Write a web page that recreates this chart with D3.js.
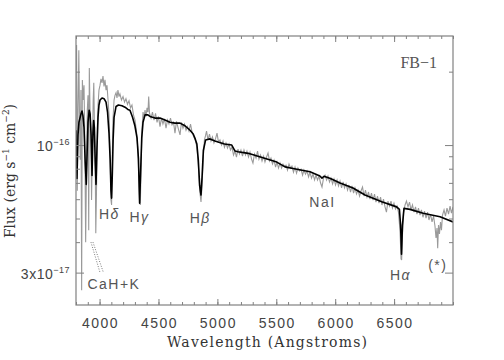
<!DOCTYPE html>
<html>
<head>
<meta charset="utf-8">
<script src="https://cdn.jsdelivr.net/npm/d3@7"></script>
<style>
  body { margin: 0; background: #fff; }
  .tick-label { font-family: "Liberation Sans", Arial, sans-serif; font-size: 14px; letter-spacing: 1.5px; fill: #444; }
  .axis-title { font-family: "DejaVu Serif", "Liberation Serif", serif; font-size: 14px; fill: #333; }
  .line-label { font-family: "Liberation Sans", Arial, sans-serif; font-size: 14px; letter-spacing: 1.5px; fill: #555; }
</style>
</head>
<body>
<div id="chart"></div>
<script>
// flux in units of 1e-17 erg s^-1 cm^-2 A^-1, wavelength in Angstroms

// smooth model spectrum (black)
const model = [
  [3800,11.5],[3808,7.3],[3817,11.0],[3825,12.4],[3842,13.4],[3851,13.8],[3859,13.2],[3868,11.8],
  [3878,8.5],[3887,6.9],[3895,9.5],[3902,12.4],[3912,13.9],[3920,13.4],[3928,11.0],[3936,7.5],
  [3944,11.2],[3950,12.6],[3956,11.8],[3963,8.5],[3970,6.9],[3978,9.7],[3987,13.0],[3995,14.6],
  [4004,15.3],[4021,15.6],[4038,15.5],[4055,15.0],[4068,13.6],[4080,11.2],[4090,8.7],[4097,6.5],
  [4102,6.06],[4108,7.5],[4115,10.5],[4123,13.0],[4140,14.4],[4160,14.6],[4190,14.5],[4216,14.3],
  [4240,14.0],[4258,13.9],[4280,13.0],[4300,12.0],[4318,10.7],[4330,8.8],[4340,5.78],[4348,7.6],
  [4358,10.7],[4369,12.4],[4386,13.3],[4410,13.3],[4428,13.1],[4470,12.9],[4513,12.9],[4555,12.66],
  [4598,12.4],[4640,12.3],[4683,12.3],[4725,12.0],[4768,11.5],[4795,11.1],[4812,10.6],[4826,10.1],
  [4838,8.7],[4850,6.8],[4861,6.24],[4870,7.4],[4881,9.5],[4900,10.5],[4937,10.6],[4980,10.4],
  [5005,10.3],[5060,10.1],[5122,10.0],[5150,9.45],[5175,9.39],[5262,9.25],[5380,8.90],[5497,8.55],
  [5574,8.14],[5642,8.02],[5786,7.78],[5870,7.47],[5888,7.32],[5905,7.45],[5960,7.30],[6041,6.99],
  [6151,6.67],[6253,6.24],[6395,5.86],[6522,5.58],[6545,5.45],[6555,4.70],[6563,3.57],[6571,4.70],
  [6584,5.50],[6635,5.45],[6747,5.25],[6890,5.08],[7000,4.84]
];

// observed spectrum (grey)
const observed = [
  [3800,20.3],[3805,25.7],[3811,6.5],[3817,13.9],[3824,24.5],[3830,12.7],[3836,8.7],[3842,16.8],
  [3848,2.54],[3854,18.5],[3861,15.3],[3868,17.6],[3875,10.5],[3882,4.0],[3889,7.9],[3896,13.9],
  [3902,16.0],[3908,4.48],[3913,20.7],[3919,13.9],[3926,11.5],[3932,5.95],[3939,9.54],[3946,15.3],
  [3951,18.0],[3957,11.5],[3963,8.7],[3968,4.35],[3974,6.5],[3981,11.5],[3987,14.6],[3995,16.8],
  [4004,17.6],[4012,18.7],[4021,18.0],[4029,19.2],[4038,17.4],[4046,18.5],[4055,16.8],[4063,17.6],
  [4072,15.3],[4080,13.3],[4089,9.5],[4097,5.95],[4102,5.68],[4108,8.7],[4114,12.7],[4123,15.3],
  [4131,16.0],[4140,16.4],[4148,15.6],[4156,16.8],[4165,15.8],[4173,16.2],[4186,15.3],[4199,15.8],
  [4212,15.0],[4224,15.5],[4237,14.7],[4250,15.2],[4263,14.2],[4275,14.6],[4288,13.3],[4301,12.66],
  [4314,11.3],[4326,9.5],[4339,5.95],[4346,5.68],[4352,7.9],[4360,11.5],[4369,13.65],[4377,12.9],
  [4386,13.9],[4394,13.1],[4403,14.2],[4411,13.65],[4417,15.8],[4424,13.5],[4437,12.9],[4449,13.65],
  [4462,12.66],[4475,13.5],[4488,12.4],[4500,13.1],[4513,11.9],[4526,12.9],[4538,12.2],[4551,12.8],
  [4564,11.74],[4577,12.66],[4589,12.2],[4602,12.9],[4615,12.1],[4628,12.4],[4640,11.2],[4653,12.5],
  [4666,11.8],[4683,11.0],[4695,12.4],[4708,11.74],[4721,12.2],[4734,11.5],[4746,11.9],[4759,11.4],
  [4772,12.2],[4785,11.3],[4797,10.9],[4812,10.5],[4826,9.8],[4838,8.3],[4850,6.5],[4861,5.84],
  [4870,6.86],[4881,9.0],[4890,10.5],[4899,10.9],[4908,11.4],[4920,10.5],[4933,11.1],[4946,10.4],
  [4958,10.8],[4971,10.2],[4984,10.6],[4997,11.2],[5009,10.3],[5022,10.5],[5035,10.0],[5048,10.4],
  [5060,9.8],[5073,10.2],[5086,9.72],[5099,10.1],[5111,9.54],[5124,9.8],[5137,9.10],[5150,9.45],
  [5162,8.93],[5175,9.63],[5188,9.19],[5200,9.54],[5213,9.0],[5226,9.54],[5239,9.10],[5251,9.45],
  [5264,8.93],[5277,9.36],[5290,8.76],[5302,8.44],[5315,9.19],[5328,8.85],[5341,9.45],[5353,8.76],
  [5366,9.10],[5379,8.60],[5392,9.0],[5404,8.52],[5417,8.93],[5430,9.27],[5443,8.60],[5455,8.85],
  [5468,8.36],[5481,8.68],[5494,8.13],[5506,8.52],[5519,8.05],[5532,8.44],[5545,8.05],[5557,8.36],
  [5570,8.20],[5583,8.28],[5595,7.9],[5608,8.36],[5621,8.05],[5633,8.20],[5646,7.75],[5659,8.13],
  [5672,7.68],[5684,8.05],[5697,7.83],[5710,7.97],[5723,7.53],[5735,7.9],[5748,7.6],[5761,7.83],
  [5774,7.4],[5786,7.75],[5799,7.32],[5812,7.6],[5825,7.19],[5837,7.53],[5850,7.19],[5863,7.46],
  [5876,6.99],[5888,6.73],[5901,7.32],[5914,7.53],[5927,7.19],[5939,7.46],[5952,7.06],[5965,7.32],
  [5978,6.93],[5990,7.25],[6003,6.86],[6016,7.19],[6028,6.80],[6041,7.12],[6054,6.67],[6067,7.06],
  [6079,6.67],[6092,6.93],[6105,6.54],[6117,6.86],[6130,6.42],[6143,6.80],[6156,6.36],[6168,6.67],
  [6181,6.30],[6194,6.54],[6207,6.18],[6219,6.48],[6232,6.73],[6245,6.18],[6257,6.54],[6270,6.12],
  [6283,6.42],[6295,6.0],[6308,6.36],[6321,5.95],[6334,6.30],[6346,5.84],[6359,6.18],[6372,5.78],
  [6385,6.12],[6397,5.68],[6410,6.0],[6423,5.58],[6435,5.31],[6448,5.89],[6461,5.62],[6474,5.89],
  [6486,5.52],[6499,5.78],[6512,5.47],[6525,5.62],[6537,5.31],[6550,4.48],[6559,3.42],[6564,3.38],
  [6571,4.28],[6580,5.31],[6593,5.68],[6605,5.89],[6618,5.58],[6631,5.84],[6643,5.42],[6656,5.68],
  [6669,5.31],[6682,5.58],[6694,5.21],[6707,5.52],[6720,5.16],[6732,5.42],[6745,5.06],[6758,5.36],
  [6771,5.02],[6784,5.31],[6796,4.93],[6809,5.21],[6822,4.84],[6835,5.11],[6847,4.66],[6856,4.16],
  [6864,4.57],[6870,3.78],[6877,4.70],[6885,4.32],[6894,4.84],[6902,4.48],[6911,5.16],[6924,5.42],
  [6936,5.11],[6949,5.52],[6962,5.21],[6975,5.62],[6987,5.26],[7000,5.58]
];

// axis ticks
const xMajorTicks = [4000, 4500, 5000, 5500, 6000, 6500];
const xMinorTicks = d3.range(3800, 7001, 100);
const yMajorTicks = [10, 3];
const yMinorTicks = [20, 9, 8, 7, 6, 5, 4];
const yTickLabels = [
  { value: 10, base: "10", exp: "\u221216" },
  { value: 3, base: "3x10", exp: "\u221217" }
];

// line identifications: [text, greek suffix, wavelength, flux at baseline]
const lineLabels = [
  ["H", "\u03b4", 4083, 5.0],
  ["H", "\u03b3", 4339, 4.85],
  ["H", "\u03b2", 4855, 4.78],
  ["NaI", "", 5892, 5.59],
  ["H", "\u03b1", 6554, 2.80],
  ["(*)", "", 6871, 3.07],
  ["CaH+K", "", 4122, 2.58]
];
// dotted pointers for CaH+K: [lambda1, flux1, lambda2, flux2]
const caPointers = [[3927, 4.0, 4004, 3.0], [3944, 4.0, 4033, 3.0]];

const width = 504, height = 360;
const margin = { top: 36, right: 51, bottom: 55, left: 76 };
const innerW = width - margin.left - margin.right;
const innerH = height - margin.top - margin.bottom;

const svg = d3.select("#chart").append("svg")
  .attr("width", width)
  .attr("height", height);

const chart = svg.append("g")
  .attr("transform", `translate(${margin.left},${margin.top})`);

const xScale = d3.scaleLinear().domain([3800, 7000]).range([0, innerW]);
const yScale = d3.scaleLog().domain([2.21, 28.0]).range([innerH, 0]);

chart.append("clipPath").attr("id", "plot-clip")
  .append("rect").attr("width", innerW).attr("height", innerH);

const line = d3.line()
  .x(d => xScale(d[0]))
  .y(d => yScale(d[1]));

const plot = chart.append("g").attr("clip-path", "url(#plot-clip)");

plot.append("path")
  .datum(observed)
  .attr("fill", "none")
  .attr("stroke", "#9a9a9a")
  .attr("stroke-width", 1.1)
  .attr("d", line);

plot.append("path")
  .datum(model)
  .attr("fill", "none")
  .attr("stroke", "#000")
  .attr("stroke-width", 1.6)
  .attr("stroke-linejoin", "round")
  .attr("d", line);

// axes: ticks point inwards on all four sides
const axisColor = "#808080";
function styleAxis(g) {
  g.select(".domain").remove();
  g.selectAll("line").attr("stroke", axisColor);
  g.selectAll("text").remove();
}

chart.append("g").attr("transform", `translate(0,${innerH})`)
  .call(d3.axisBottom(xScale).tickValues(xMinorTicks).tickSize(-3)).call(styleAxis);
chart.append("g").attr("transform", `translate(0,${innerH})`)
  .call(d3.axisBottom(xScale).tickValues(xMajorTicks).tickSize(-6)).call(styleAxis);
chart.append("g")
  .call(d3.axisTop(xScale).tickValues(xMinorTicks).tickSize(-3)).call(styleAxis);
chart.append("g")
  .call(d3.axisTop(xScale).tickValues(xMajorTicks).tickSize(-6)).call(styleAxis);

chart.append("g")
  .call(d3.axisLeft(yScale).tickValues(yMinorTicks).tickSize(-4)).call(styleAxis);
chart.append("g")
  .call(d3.axisLeft(yScale).tickValues(yMajorTicks).tickSize(-8)).call(styleAxis);
chart.append("g").attr("transform", `translate(${innerW},0)`)
  .call(d3.axisRight(yScale).tickValues(yMinorTicks).tickSize(-4)).call(styleAxis);
chart.append("g").attr("transform", `translate(${innerW},0)`)
  .call(d3.axisRight(yScale).tickValues(yMajorTicks).tickSize(-8)).call(styleAxis);

// frame
chart.append("rect")
  .attr("width", innerW)
  .attr("height", innerH)
  .attr("fill", "none")
  .attr("stroke", axisColor)
  .attr("stroke-width", 1.2);

// x tick labels
chart.selectAll(".x-label")
  .data(xMajorTicks)
  .join("text")
  .attr("class", "tick-label")
  .attr("x", d => xScale(d) + 1)
  .attr("y", innerH + 23)
  .attr("text-anchor", "middle")
  .text(d => d);

// y tick labels with exponent
const yLab = chart.selectAll(".y-label")
  .data(yTickLabels)
  .join("text")
  .attr("class", "tick-label")
  .attr("x", -6)
  .attr("y", d => yScale(d.value) + 6)
  .attr("text-anchor", "end")
  .style("letter-spacing", "0.5px");
yLab.append("tspan").text(d => d.base);
yLab.append("tspan")
  .attr("dy", -6)
  .attr("font-size", "9px")
  .text(d => d.exp);

// axis titles
svg.append("text")
  .attr("class", "axis-title")
  .attr("x", 167)
  .attr("y", 347)
  .attr("textLength", 200)
  .attr("lengthAdjust", "spacing")
  .text("Wavelength (Angstroms)");

const yTitle = svg.append("text")
  .attr("class", "axis-title")
  .attr("transform", "translate(15,171) rotate(-90)")
  .attr("text-anchor", "middle");
yTitle.append("tspan").text("Flux (erg s");
yTitle.append("tspan").attr("dy", -6).attr("font-size", "9px").text("\u22121");
yTitle.append("tspan").attr("dy", 6).text(" cm");
yTitle.append("tspan").attr("dy", -6).attr("font-size", "9px").text("\u22122");
yTitle.append("tspan").attr("dy", 6).text(")");

// object name
chart.append("text")
  .attr("x", innerW - 16)
  .attr("y", 32)
  .attr("text-anchor", "end")
  .attr("font-family", "Liberation Serif, Times New Roman, serif")
  .attr("font-size", "16px")
  .attr("fill", "#555")
  .text("FB\u22121");

// spectral line labels
const labels = chart.selectAll(".line-label")
  .data(lineLabels)
  .join("text")
  .attr("class", "line-label")
  .attr("x", d => xScale(d[2]))
  .attr("y", d => yScale(d[3]))
  .attr("text-anchor", "middle");
labels.append("tspan").text(d => d[0]);
labels.append("tspan")
  .attr("font-style", "italic")
  .text(d => d[1]);

chart.selectAll(".ca-pointer")
  .data(caPointers)
  .join("line")
  .attr("x1", d => xScale(d[0]))
  .attr("y1", d => yScale(d[1]))
  .attr("x2", d => xScale(d[2]))
  .attr("y2", d => yScale(d[3]))
  .attr("stroke", "#555")
  .attr("stroke-width", 0.8)
  .attr("stroke-dasharray", "1,1.5");
</script>
</body>
</html>
